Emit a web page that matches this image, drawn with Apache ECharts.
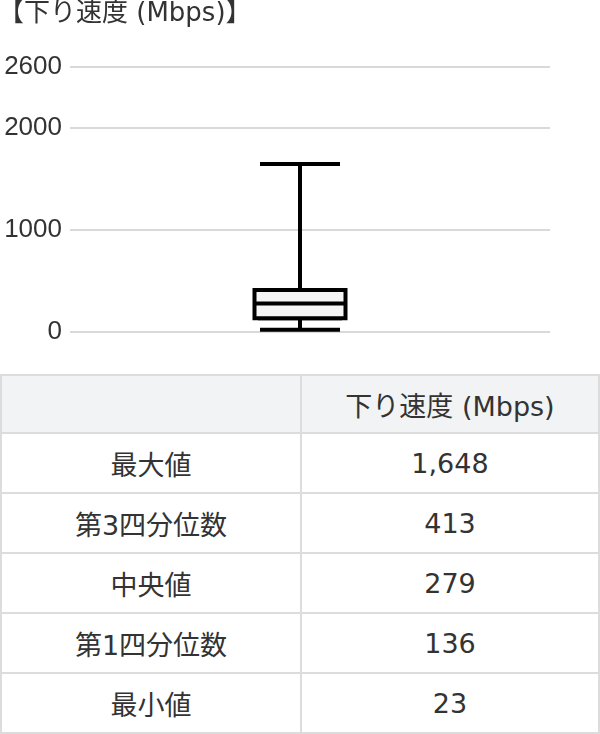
<!DOCTYPE html>
<html>
<head>
<meta charset="utf-8">
<script src="https://cdn.jsdelivr.net/npm/echarts@6/dist/echarts.min.js"></script>
<style>
  body { margin: 0; background: #fff; font-family: "DejaVu Sans", "Noto Sans CJK JP", sans-serif; color: #333; }
  #main { width: 600px; height: 374px; }
  table { width: 600px; border-collapse: collapse; }
  td, th { border: 2px solid #dcdcdc; text-align: center; font-weight: normal; font-size: 27px; height: 58px; padding: 0; }
  th { background: #f2f3f4; height: 56px; }
  td:first-child, th:first-child { width: 298px; }
</style>
</head>
<body>
<div id="main"></div>
<table id="tbl"></table>
<script>
// 下り速度 (Mbps) の統計値
var titleText = '【下り速度 (Mbps)】';
var seriesName = '下り速度 (Mbps)';
var statLabels = ['最大値', '第3四分位数', '中央値', '第1四分位数', '最小値'];
var statValues = [1648, 413, 279, 136, 23];
var yTicks = [0, 1000, 2000, 2600];

var vMax = statValues[0], q3 = statValues[1], med = statValues[2], q1 = statValues[3], vMin = statValues[4];

// ひげ用（キャップ幅を細く）と箱用の2系列
var whiskerData = [[vMin, q1, med, q3, vMax]];
var boxData = [[q1, q1, med, q3, q3]];

var titleFont = '"DejaVu Sans", "Noto Sans CJK JP", sans-serif';
var axisFont = '"Liberation Sans", sans-serif';
var yMin = yTicks[0], yMax = yTicks[yTicks.length - 1];

function hiddenX(i) {
    return { type: 'category', gridIndex: i, data: [seriesName], show: false };
}
function hiddenY(i) {
    return { type: 'value', gridIndex: i, min: yMin, max: yMax, show: false, splitLine: { show: false } };
}

var myChart = echarts.init(document.getElementById('main'));
myChart.setOption({
    animation: false,
    title: {
        text: titleText,
        left: -2,
        top: 1,
        padding: 0,
        textStyle: { fontSize: 26, fontWeight: 'normal', color: '#333', fontFamily: titleFont }
    },
    grid: [
        { left: 70, right: 50, top: 67, bottom: 42 },
        { left: 50, right: 50, top: 67, bottom: 42 },
        { left: 50, right: 50, top: 67, bottom: 42 }
    ],
    xAxis: [
        { type: 'category', gridIndex: 0, data: [seriesName], show: false },
        hiddenX(1),
        hiddenX(2)
    ],
    yAxis: [
        {
            type: 'value',
            gridIndex: 0,
            min: yMin,
            max: yMax,
            interval: 1000,
            axisLine: { show: false },
            axisTick: { show: false },
            axisLabel: {
                fontSize: 26, color: '#333', margin: 8, fontFamily: axisFont,
                formatter: function (v) { return String(v); }
            },
            splitLine: { lineStyle: { color: '#d9d9d9', width: 2 } }
        },
        hiddenY(1),
        hiddenY(2)
    ],
    series: [{
        name: seriesName,
        type: 'boxplot',
        xAxisIndex: 1,
        yAxisIndex: 1,
        boxWidth: [80, 80],
        itemStyle: { color: '#f5f5f5', borderColor: '#000', borderWidth: 4 },
        data: whiskerData
    }, {
        name: seriesName,
        type: 'boxplot',
        xAxisIndex: 2,
        yAxisIndex: 2,
        boxWidth: [91, 91],
        itemStyle: { color: '#f5f5f5', borderColor: '#000', borderWidth: 4 },
        data: boxData
    }]
});

// 表
var html = '<tr><th></th><th>' + seriesName + '</th></tr>';
statLabels.forEach(function (label, i) {
    html += '<tr><td>' + label + '</td><td>' + statValues[i].toLocaleString('en-US') + '</td></tr>';
});
document.getElementById('tbl').innerHTML = html;
</script>
</body>
</html>
